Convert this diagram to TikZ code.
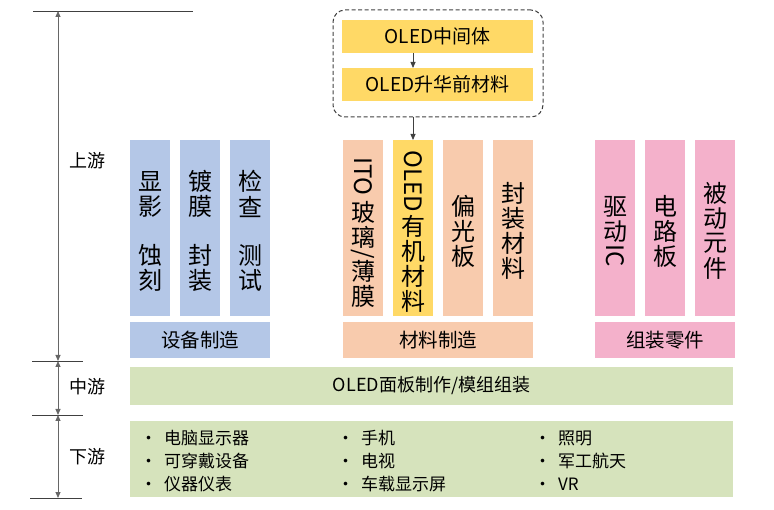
\documentclass[tikz,border=0pt]{standalone}
\usepackage{fontspec}
\setmainfont{Noto Sans CJK SC}
\usetikzlibrary{arrows.meta}
\definecolor{blu}{HTML}{B4C7E7}
\definecolor{org}{HTML}{F8CBAD}
\definecolor{yel}{HTML}{FFD966}
\definecolor{pnk}{HTML}{F4B1CB}
\definecolor{grn}{HTML}{D6E3BC}
\definecolor{ln}{HTML}{404040}
\newcommand\colfont{\fontsize{24}{25}\selectfont}
\newcommand\cc[1]{\hbox to 40pt{\hss\vbox to 25pt{\vss\hbox{#1}\vss}\hss}}
\newcommand\rr[2][3pt]{\hbox to 40pt{\hss\vbox{\kern#1\hbox{\rotatebox{-90}{#2}}\kern#1}\hss}}
\newcommand\vstack[1]{\vbox{\offinterlineskip #1}}
\newcommand\bul[1]{\makebox[24pt][l]{•}#1}
\begin{document}
\begin{tikzpicture}[x=1pt,y=-1pt,
  cell/.style={inner sep=0pt, outer sep=0pt, minimum width=40pt, minimum height=176pt},
  ctext/.style={inner sep=0pt, outer sep=0pt, font=\colfont, text=black, yshift=-3pt},
  lab/.style={inner sep=0pt, outer sep=0pt, minimum height=36pt, font=\fontsize{19.5}{22}\selectfont, text=black},
  hbox/.style={inner sep=0pt, outer sep=0pt, font=\fontsize{19}{22}\selectfont, text=black},
  item/.style={inner sep=0pt, anchor=west, font=\fontsize{17}{20}\selectfont, text=black},
  side/.style={inner sep=0pt, font=\fontsize{18}{20}\selectfont, text=black},
  arr/.style={draw=ln, line width=0.8pt, -{Triangle[length=6pt,width=5pt]}},
  dim/.style={draw=ln!80, line width=0.8pt, {Triangle[length=6pt,width=5pt]}-{Triangle[length=6pt,width=5pt]}},
  tick/.style={draw=ln, line width=0.9pt}]
\useasboundingbox (0,0) rectangle (774,510);

% axis
\coordinate (a0) at (58,11);
\coordinate (a1) at (58,361);
\coordinate (a2) at (58,415);
\coordinate (a3) at (58,498);
\coordinate (l0) at (33,11);  \coordinate (r0) at (193,11);
\coordinate (l1) at (32,361); \coordinate (r1) at (83,361);
\coordinate (l2) at (32,415); \coordinate (r2) at (83,415);
\coordinate (l3) at (30,498); \coordinate (r3) at (82,498);
\draw[tick] (l0) -- (r0);
\draw[tick] (l1) -- (r1);
\draw[tick] (l2) -- (r2);
\draw[tick] (l3) -- (r3);
\draw[dim] (a0) -- (a1);
\draw[dim] (a1) -- (a2);
\draw[dim] (a2) -- (a3);
\node[side] (up) at (87,161) {上游};
\node[side] (md) at (87,387) {中游};
\node[side] (dn) at (87,457) {下游};

% blue group
\node[cell, fill=blu] (b1) at (150,228) {};
\node[cell, fill=blu] (b2) at (200,228) {};
\node[cell, fill=blu] (b3) at (250,228) {};
\node[ctext] (b1t) at (b1.center) {\vstack{\cc{显}\cc{影}\kern24pt\cc{蚀}\cc{刻}}};
\node[ctext] (b2t) at (b2.center) {\vstack{\cc{镀}\cc{膜}\kern24pt\cc{封}\cc{装}}};
\node[ctext] (b3t) at (b3.center) {\vstack{\cc{检}\cc{查}\kern24pt\cc{测}\cc{试}}};
\node[lab, fill=blu, minimum width=140pt] (bl) at (200,340) {设备制造};

% orange group
\node[cell, fill=org] (o1) at (363,228) {};
\node[cell, fill=yel] (o2) at (413,228) {};
\node[cell, fill=org] (o3) at (463,228) {};
\node[cell, fill=org] (o4) at (513,228) {};
\node[ctext] (o1t) at (o1.center) {\vstack{\rr[4pt]{ITO}\cc{玻}\cc{璃}\rr[0pt]{/}\cc{薄}\cc{膜}}};
\node[ctext] (o2t) at (o2.center) {\vstack{\rr[2pt]{OLED}\cc{有}\cc{机}\cc{材}\cc{料}}};
\node[ctext] (o3t) at (o3.center) {\vstack{\cc{偏}\cc{光}\cc{板}}};
\node[ctext] (o4t) at (o4.center) {\vstack{\cc{封}\cc{装}\cc{材}\cc{料}}};
\node[lab, fill=org, minimum width=190pt] (ol) at (438,340) {材料制造};

% pink group
\node[cell, fill=pnk] (p1) at (615,228) {};
\node[cell, fill=pnk] (p2) at (665,228) {};
\node[cell, fill=pnk] (p3) at (715,228) {};
\node[ctext] (p1t) at (p1.center) {\vstack{\cc{驱}\cc{动}\rr[1pt]{IC}}};
\node[ctext] (p2t) at (p2.center) {\vstack{\cc{电}\cc{路}\cc{板}}};
\node[ctext] (p3t) at (p3.center) {\vstack{\cc{被}\cc{动}\cc{元}\cc{件}}};
\node[lab, fill=pnk, minimum width=140pt] (pl) at (665,340) {组装零件};

% top
\node[hbox, fill=yel, minimum width=191pt, minimum height=33pt] (y1) at (437.5,36.5) {OLED中间体};
\node[hbox, fill=yel, minimum width=191pt, minimum height=33pt] (y2) at (437.5,84.5) {OLED升华前材料};
\node[draw=ln, dashed, dash pattern=on 4pt off 2.5pt, line width=1pt, rounded corners=12pt, inner sep=0pt, minimum width=210pt, minimum height=107pt] (dbox) at (438,63.5) {};
\draw[arr] (y1.south -| o2) -- (y2.north -| o2);
\draw[arr] (dbox.south -| o2) -- (o2.north);

% midstream
\node[hbox, fill=grn, minimum width=603pt, minimum height=38pt] (mid) at (431.5,386) {\fontsize{18}{22}\selectfont OLED面板制作/模组组装};

% downstream
\node[fill=grn, inner sep=0pt, minimum width=603pt, minimum height=76pt] (down) at (431.5,459) {};
\node[item] (i11) at (140,438) {\bul{电脑显示器}};
\node[item] (i12) at (140,461) {\bul{可穿戴设备}};
\node[item] (i13) at (140,484) {\bul{仪器仪表}};
\node[item] (i21) at (337,438) {\bul{手机}};
\node[item] (i22) at (337,461) {\bul{电视}};
\node[item] (i23) at (337,484) {\bul{车载显示屏}};
\node[item] (i31) at (534,438) {\bul{照明}};
\node[item] (i32) at (534,461) {\bul{军工航天}};
\node[item] (i33) at (534,484) {\bul{VR}};
\end{tikzpicture}
\end{document}
